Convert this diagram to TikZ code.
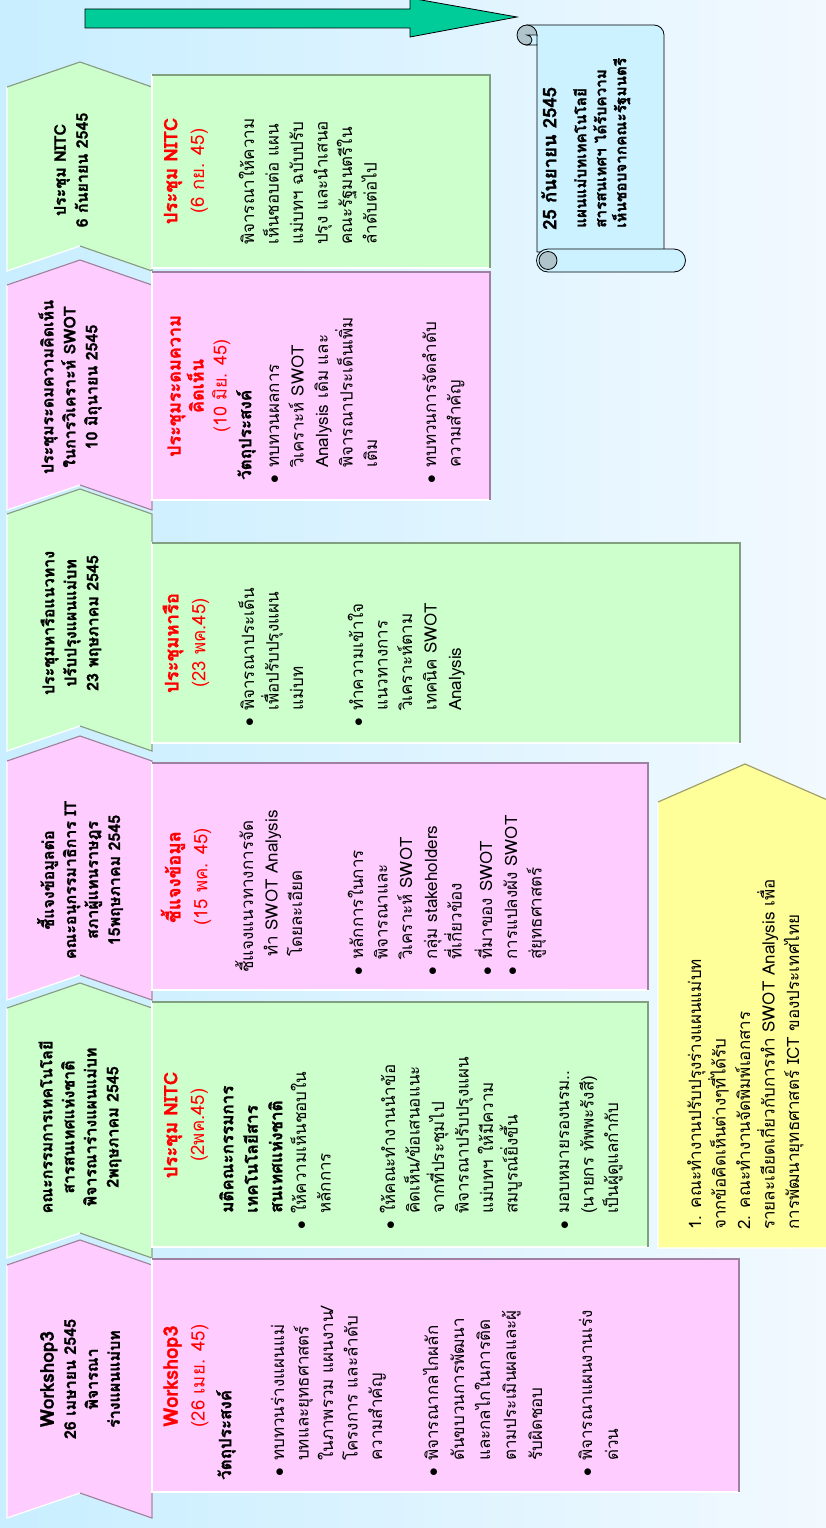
\documentclass[tikz,border=0pt]{standalone}
\usepackage{fontspec}
\setmainfont{Loma}[Script=Thai, BoldFeatures={FakeBold=1.2}]
\definecolor{pinkF}{RGB}{255,204,255}
\definecolor{pinkD}{RGB}{160,128,160}
\definecolor{greenF}{RGB}{204,255,204}
\definecolor{greenD}{RGB}{128,160,128}
\definecolor{yelF}{RGB}{255,255,153}
\definecolor{yelD}{RGB}{160,160,96}
\definecolor{bgL}{RGB}{200,238,255}
\definecolor{bgR}{RGB}{242,249,255}
\definecolor{arrowF}{RGB}{0,204,153}
\definecolor{scrollF}{RGB}{204,242,255}
\definecolor{curlF}{RGB}{176,196,204}
\newcommand{\bodyfont}{\fontsize{17}{24.5}\selectfont}
\newcommand{\bul}{\makebox[16pt][l]{$\bullet$}}
\newcommand{\ind}{\hspace*{16pt}}
\newcommand{\Para}[5][]{\node[txt,#1] (#2) at ({#3-20},{-#4}) {\rule{0pt}{20pt}#5};}
\newcommand{\chev}[4]{%
  \fill[#1, draw=white, line width=1.2pt] (7,-#3) -- (80,{-(#3-25)}) -- (152,-#3) -- (152,-#4) -- (80,{-(#4-25)}) -- (7,-#4) -- cycle;
  \draw[#2, line width=1.2pt] (7,-#3) -- (80,{-(#3-25)}) -- (152,-#3) -- (152,-#4) -- (80,{-(#4-25)});}
\newcommand{\bodybox}[6]{%
  \fill[#1, draw=white, line width=1.2pt] (#3,-#5) rectangle (#4,-#6);
  \draw[#2, line width=1.2pt] (#3,-#5) -- (#4,-#5) -- (#4,-#6);}
\tikzset{
  txt/.style={rotate=90, anchor=north west, inner sep=0pt, align=left, font=\bodyfont},
  bold/.style={font=\bodyfont\bfseries},
  wide/.style={font=\fontsize{17}{26}\selectfont},
  hdr/.style={rotate=90, align=center, inner sep=0pt, font=\bfseries\fontsize{16}{22}\selectfont},
  ttl/.style={rotate=90, align=center, inner sep=0pt, text=red, font=\fontsize{18.5}{27}\selectfont},
  scroll/.style={fill=scrollF, draw=black, line width=0.8pt},
  curl/.style={fill=curlF, draw=black, line width=0.8pt}
}
\begin{document}
\begin{tikzpicture}[x=1pt,y=1pt]
\useasboundingbox (0,0) rectangle (826,-1528);
\clip (0,0) rectangle (826,-1528);
\shade[left color=bgL, right color=bgR] (0,0) rectangle (826,-1528);

% arrow
\filldraw[fill=arrowF, draw=black, line width=0.8pt] (85,-9) -- (410,-9) -- (410,2) -- (517,-17) -- (410,-37) -- (410,-28) -- (85,-28) -- cycle;

% scroll
\filldraw[scroll] (527,-25) -- (654,-25) arc[start angle=90,end angle=0,radius=10] -- (664,-252) -- (537,-252) -- (537,-45) -- cycle;
\filldraw[curl] (527,-35) circle[radius=10];
\filldraw[scroll] (527,-35) arc[start angle=90,end angle=-90,radius=5] -- (537,-45) -- (537,-35) -- cycle;
\filldraw[scroll] (548,-249) -- (674,-249) arc[start angle=90,end angle=-90,radius=11.5] -- (548,-272) arc[start angle=270,end angle=90,radius=11.5] -- cycle;
\filldraw[curl] (548,-260.5) circle[radius=9];

% chevrons
\chev{greenF}{greenD}{87}{271}
\chev{pinkF}{pinkD}{285}{510}
\chev{greenF}{greenD}{514}{751}
\chev{pinkF}{pinkD}{761}{1000}
\chev{greenF}{greenD}{1008}{1258}
\chev{pinkF}{pinkD}{1265}{1518}

% bodies
\bodybox{greenF}{greenD}{152}{490}{75}{268}
\bodybox{pinkF}{pinkD}{152}{490}{272}{500}
\bodybox{greenF}{greenD}{152}{740}{543}{743}
\bodybox{pinkF}{pinkD}{152}{648}{763}{990}
\bodybox{greenF}{greenD}{152}{648}{1002}{1247}
\bodybox{pinkF}{pinkD}{152}{739}{1259}{1492}

% yellow
\fill[yelF, draw=white, line width=1.2pt] (658,-802) -- (745,-764) -- (832,-802) -- (832,-1248) -- (658,-1248) -- cycle;
\draw[yelD, line width=1.2pt] (658,-802) -- (745,-764) -- (832,-802);

% headers
\node[hdr] (h1) at (80,-1379) {{\fontsize{19}{22}\selectfont Workshop3}\\26 เมษายน 2545\\พิจารณา\\ร่างแผนแม่บท};
\node[hdr] (h2) at (80,-1127) {คณะกรรมการเทคโนโลยี\\สารสนเทศแห่งชาติ\\พิจารณาร่างแผนแม่บท\\2พฤษภาคม 2545};
\node[hdr] (h3) at (80,-880) {ชี้แจงข้อมูลต่อ\\คณะอนุกรรมาธิการ IT\\สภาผู้แทนราษฎร\\15พฤษภาคม 2545};
\node[hdr] (h4) at (71,-623) {ประชุมหารือแนวทาง\\ปรับปรุงแผนแม่บท\\23 พฤษภาคม 2545};
\node[hdr] (h5) at (70,-387) {ประชุมระดมความคิดเห็น\\ในการวิเคราะห์ SWOT\\10 มิถุนายน 2545};
\node[hdr] (h6) at (71,-170) {ประชุม NITC\\6 กันยายน 2545};

% titles
\node[ttl] (t1) at (186,-1376) {{\bfseries\fontsize{20}{27}\selectfont Workshop3}\\(26 เมย. 45)};
\node[ttl] (t2) at (186,-1125) {{\bfseries ประชุม NITC}\\(2พค.45)};
\node[ttl] (t3) at (186,-877) {{\bfseries ชี้แจงข้อมูล}\\(15 พค. 45)};
\node[ttl] (t4) at (186,-643) {{\bfseries ประชุมหารือ}\\(23 พค.45)};
\node[ttl, font=\fontsize{18}{23}\selectfont] (t5) at (199,-386) {{\bfseries ประชุมระดมความ}\\{\bfseries คิดเห็น}\\(10 มิย. 45)};
\node[ttl] (t6) at (186,-171) {{\bfseries ประชุม NITC}\\(6 กย. 45)};

% body texts
\Para{p6}{254}{245}{พิจารณาให้ความ\\เห็นชอบต่อ แผน\\แม่บทฯ ฉบับปรับ\\ปรุง และนำเสนอ\\คณะรัฐมนตรีใน\\ลำดับต่อไป}

\Para[bold]{p5a}{251}{480}{วัตถุประสงค์}
\Para{p5b}{279}{484}{\bul ทบทวนผลการ\\\ind วิเคราะห์ SWOT\\\ind Analysis เดิม และ\\\ind พิจารณาประเด็นเพิ่ม\\\ind เติม}
\Para{p5c}{436}{484}{\bul ทบทวนการจัดลำดับ\\\ind ความสำคัญ}

\Para{p4a}{254}{727}{\bul พิจารณาประเด็น\\\ind เพื่อปรับปรุงแผน\\\ind แม่บท}
\Para{p4b}{363}{727}{\bul ทำความเข้าใจ\\\ind แนวทางการ\\\ind วิเคราะห์ตาม\\\ind เทคนิค SWOT\\\ind Analysis}

\Para{p3a}{253}{973}{ชี้แจงแนวทางการจัด\\\ind ทำ SWOT Analysis\\\ind โดยละเอียด}
\Para{p3b}{363}{976}{\bul หลักการในการ\\\ind พิจารณาและ\\\ind วิเคราะห์ SWOT}
\Para{p3c}{437}{976}{\bul กลุ่ม stakeholders\\\ind ที่เกี่ยวข้อง}
\Para{p3d}{492}{976}{\bul ที่มาของ SWOT}
\Para{p3e}{517}{976}{\bul การแปลงผัง SWOT\\\ind สู่ยุทธศาสตร์}

\Para[bold]{p2a}{233}{1213}{มติคณะกรรมการ\\เทคโนโลยีสาร\\สนเทศแห่งชาติ}
\Para{p2b}{306}{1230}{\bul ให้ความเห็นชอบใน\\\ind หลักการ}
\Para{p2c}{395}{1230}{\bul ให้คณะทำงานนำข้อ\\\ind คิดเห็น/ข้อเสนอแนะ\\\ind จากที่ประชุมไป\\\ind พิจารณาปรับปรุงแผน\\\ind แม่บทฯ ให้มีความ\\\ind สมบูรณ์ยิ่งขึ้น}
\Para{p2d}{569}{1230}{\bul มอบหมายรองนรม..\\\ind (นายกร ทัพพะรังสี)\\\ind เป็นผู้ดูแลกำกับ}

\Para[bold]{p1a}{231}{1480}{วัตถุประสงค์}
\Para{p1b}{284}{1477}{\bul ทบทวนร่างแผนแม่\\\ind บทและยุทธศาสตร์\\\ind ในภาพรวม แผนงาน/\\\ind โครงการ และลำดับ\\\ind ความสำคัญ}
\Para[wide]{p1c}{438}{1477}{\bul พิจารณากลไกผลัก\\\ind ดันขบวนการพัฒนา\\\ind และกลไกในการติด\\\ind ตามประเมินผลและผู้\\\ind รับผิดชอบ}
\Para[wide]{p1d}{592}{1477}{\bul พิจารณาแผนงานเร่ง\\\ind ด่วน}

\Para{py}{701}{1230}{1. คณะทำงานปรับปรุงร่างแผนแม่บท\\จากข้อคิดเห็นต่างๆที่ได้รับ\\2. คณะทำงานจัดพิมพ์เอกสาร\\รายละเอียดเกี่ยวกับการทำ SWOT Analysis เพื่อ\\การพัฒนายุทธศาสตร์ ICT ของประเทศไทย}

\Para[font=\bfseries\fontsize{18.5}{20}\selectfont]{s1}{556}{230}{25 กันยายน 2545}
\Para[font=\bfseries\fontsize{15.3}{20}\selectfont]{s2}{586}{228}{แผนแม่บทเทคโนโลยี\\สารสนเทศฯ ได้รับความ\\เห็นชอบจากคณะรัฐมนตรี}
\end{tikzpicture}
\end{document}
